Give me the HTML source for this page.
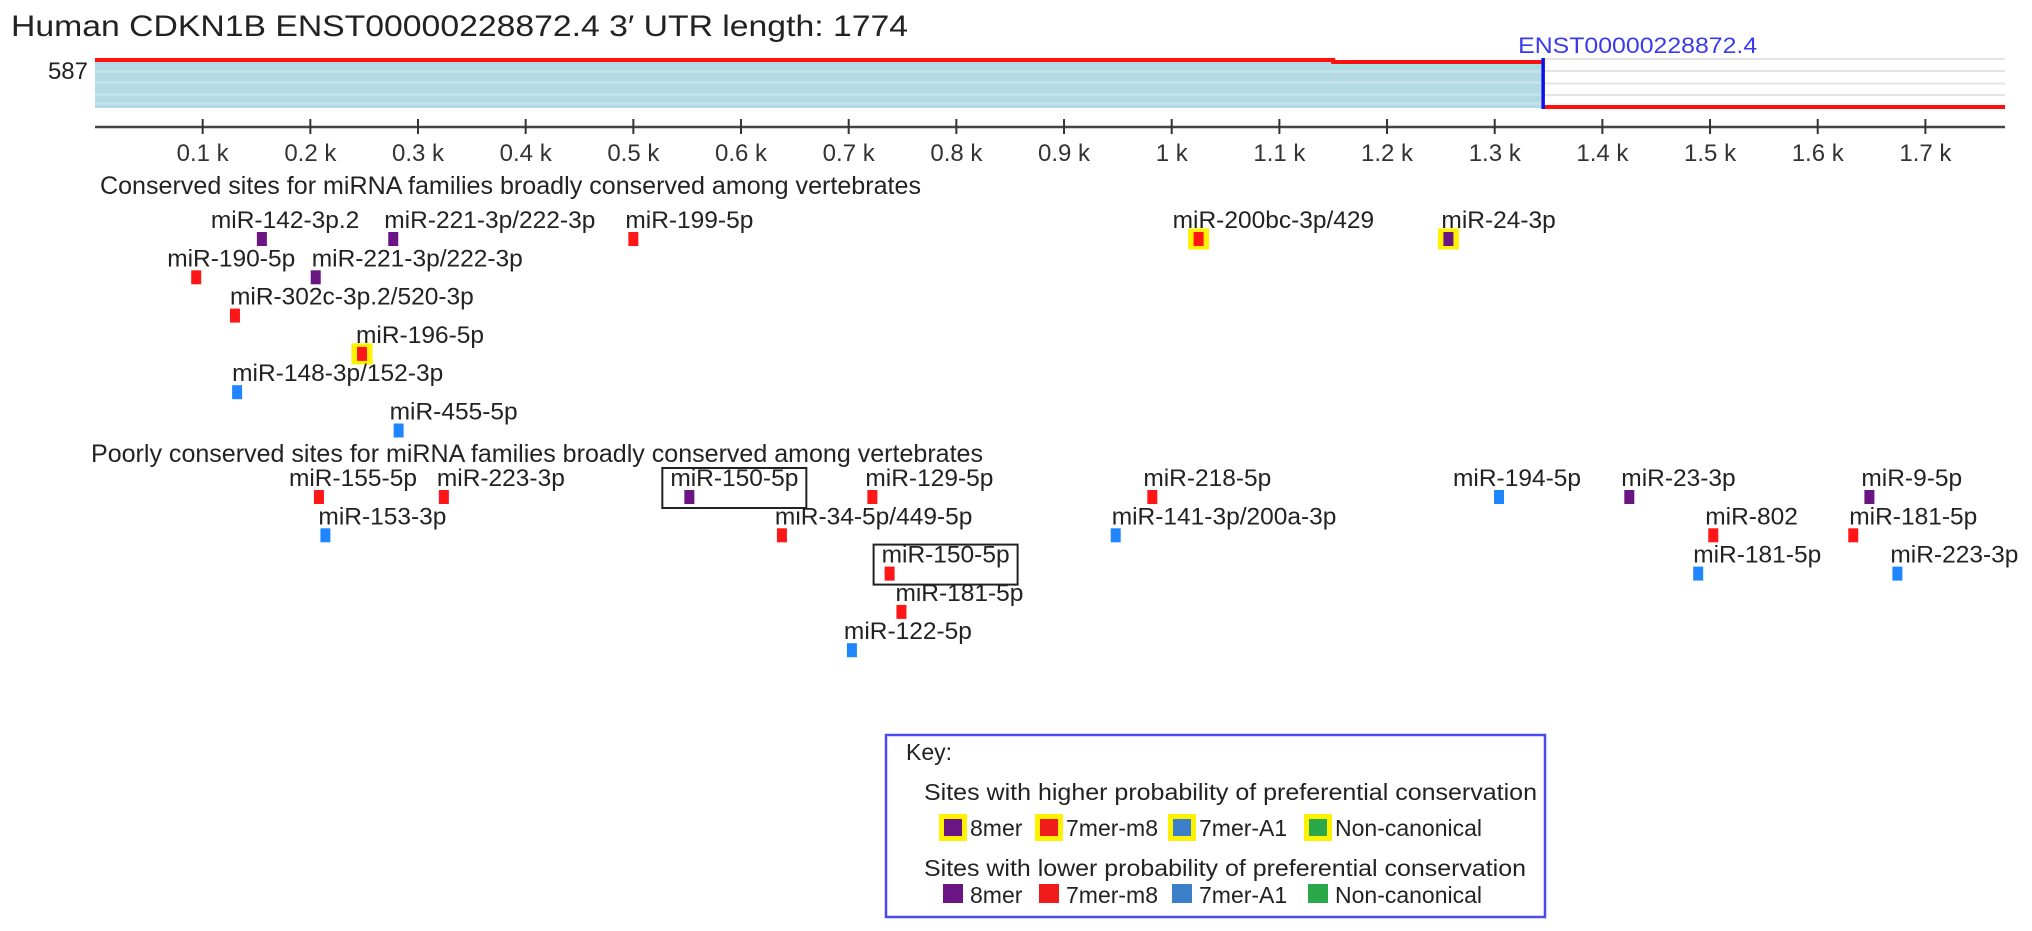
<!DOCTYPE html>
<html><head><meta charset="utf-8">
<style>
html,body{margin:0;padding:0;background:#fff;}
svg{display:block;font-family:"Liberation Sans",Arial,sans-serif;}
</style></head>
<body>
<svg id="chart" width="2032" height="931" viewBox="0 0 2032 931" xmlns="http://www.w3.org/2000/svg">
  <rect width="2032" height="931" fill="#fff"/>
  <text x="11" y="36" font-size="30" fill="#222" textLength="897" lengthAdjust="spacingAndGlyphs">Human CDKN1B ENST00000228872.4  3′ UTR length: 1774</text>
  <text x="88" y="79" font-size="24" fill="#222" text-anchor="end">587</text>
  <g id="track"></g>
  <g id="axis"></g>
  <text x="100" y="194" font-size="25" fill="#222" textLength="821" lengthAdjust="spacingAndGlyphs">Conserved sites for miRNA families broadly conserved among vertebrates</text>
  <text x="91" y="462" font-size="25" fill="#222" textLength="892" lengthAdjust="spacingAndGlyphs">Poorly conserved sites for miRNA families broadly conserved among vertebrates</text>
  <g id="sites"></g>
  <g id="legend">
    <rect x="886" y="735" width="659" height="182" fill="#fff" stroke="#4a4aee" stroke-width="2.5"/>
    <text x="906" y="760" font-size="23" fill="#222">Key:</text>
    <text x="924" y="800" font-size="23" fill="#222" textLength="613" lengthAdjust="spacingAndGlyphs">Sites with higher probability of preferential conservation</text>
    <text x="924" y="876" font-size="23" fill="#222" textLength="602" lengthAdjust="spacingAndGlyphs">Sites with lower probability of preferential conservation</text>
  </g>
</svg>
<script>
// ---- data ----
const utrLength = 1774;
const tickValues = [100,200,300,400,500,600,700,800,900,1000,1100,1200,1300,1400,1500,1600,1700];
const tickLabels = ["0.1 k","0.2 k","0.3 k","0.4 k","0.5 k","0.6 k","0.7 k","0.8 k","0.9 k","1 k","1.1 k","1.2 k","1.3 k","1.4 k","1.5 k","1.6 k","1.7 k"];
const alignStep = 1150;
const transcriptEnd = 1345;

const consNames = ["miR-142-3p.2","miR-221-3p/222-3p","miR-199-5p","miR-200bc-3p/429","miR-24-3p","miR-190-5p","miR-221-3p/222-3p","miR-302c-3p.2/520-3p","miR-196-5p","miR-148-3p/152-3p","miR-455-5p"];
const consPos = [155,277,500,1025,1257,94,205,130,248,132,282];
const consType = ["8mer","8mer","7mer-m8","7mer-m8","8mer","7mer-m8","8mer","7mer-m8","7mer-m8","7mer-A1","7mer-A1"];
const consHigh = [0,0,0,1,1,0,0,0,1,0,0];
const consRow = [0,0,0,0,0,1,1,2,3,4,5];
const consNudge = [-51,-9,-8,-26,-7,-29,-4,-5,-6,-5,-9];

const poorNames = ["miR-155-5p","miR-223-3p","miR-150-5p","miR-129-5p","miR-218-5p","miR-194-5p","miR-23-3p","miR-9-5p","miR-153-3p","miR-34-5p/449-5p","miR-141-3p/200a-3p","miR-802","miR-181-5p","miR-150-5p","miR-181-5p","miR-223-3p","miR-181-5p","miR-122-5p"];
const poorPos = [208,324,552,722,982,1304,1425,1648,214,638,948,1503,1633,738,1489,1674,749,703];
const poorType = ["7mer-m8","7mer-m8","8mer","7mer-m8","7mer-m8","7mer-A1","8mer","8mer","7mer-A1","7mer-m8","7mer-A1","7mer-m8","7mer-m8","7mer-m8","7mer-A1","7mer-A1","7mer-m8","7mer-A1"];
const poorRow = [0,0,0,0,0,0,0,0,1,1,1,1,1,2,2,2,3,4];
const poorBoxed = [0,0,1,0,0,0,0,0,0,0,0,0,0,1,0,0,0,0];
const poorNudge = [-30,-7,-19,-7,-9,-46,-8,-8,-7,-7,-4,-8,-4,-8,-5,-7,-6,-8];

const legendTypes = ["8mer","7mer-m8","7mer-A1","Non-canonical"];

// ---- scales ----
const NS = "http://www.w3.org/2000/svg";
const X0 = 95, PX = 1.0767;
function xs(nt){ return X0 + nt*PX; }
const consRowY = r => 239 + r*38.3;
const poorRowY = r => 497 + r*38.3;
const markerColor = {"8mer":"#6b1483","7mer-m8":"#ff1717","7mer-A1":"#1f86ff","Non-canonical":"#2aa84a"};
const legendColor = {"8mer":"#6b1483","7mer-m8":"#f01c1c","7mer-A1":"#3a7fc8","Non-canonical":"#2ba84a"};
function mk(tag, attrs, parent){
  const e = document.createElementNS(NS, tag);
  for (const k in attrs) e.setAttribute(k, attrs[k]);
  parent.appendChild(e); return e;
}

// ---- track ----
const track = document.getElementById('track');
const xEnd = xs(utrLength), xT = xs(transcriptEnd), xStep = xs(alignStep);
let e;
e = mk('rect',{x:X0,y:62,width:xT-X0,height:46,fill:'#b2d9e4'},track);


[70,81,93,102].forEach(function(y){
  e = mk('rect',{x:X0,y:y,width:xT-X0,height:3,fill:'#c4e2ea'},track);
  
  
});
e = mk('rect',{x:xStep,y:63,width:xT-xStep,height:5,fill:'#a6e0e2'},track);


[59,71,83.5,95].forEach(function(y){
  e = mk('line',{x1:xT,x2:xEnd,y1:y,y2:y,stroke:'#e4e4e4','stroke-width':2},track);
  
  
});
e = mk('polyline',{points:`${X0},60 ${xStep},60 ${xStep},62 ${xT},62`,fill:'none',stroke:'#ff1010','stroke-width':4},track);


e = mk('line',{x1:xT,x2:xEnd,y1:107,y2:107,stroke:'#ff1010','stroke-width':4},track);


e = mk('line',{x1:xT,x2:xT,y1:58,y2:109,stroke:'#1010ee','stroke-width':3.5},track);


e = mk('text',{x:xT-25,y:53,'font-size':22,fill:'#3a3aee',textLength:239,lengthAdjust:'spacingAndGlyphs'},track);
e.textContent = 'ENST00000228872.4';



// ---- axis ----
const axis = document.getElementById('axis');
e = mk('line',{x1:X0,x2:xEnd,y1:127,y2:127,stroke:'#444','stroke-width':2.5},axis);


tickValues.forEach(function(v,i){
  const x = xs(v);
  let t = mk('line',{x1:x,x2:x,y1:119,y2:134,stroke:'#333','stroke-width':2},axis);
  
  
  let l = mk('text',{x:x,y:161,'font-size':24,fill:'#333','text-anchor':'middle'},axis);
  l.textContent = tickLabels[i];
  
  
});

// ---- sites ----
const sites = document.getElementById('sites');
function drawSite(name,pos,type,high,cy,nudge,boxed){
  const cx = xs(pos);
  const g = mk('g',{},sites);
  
  
  if (high){
    let h = mk('rect',{x:cx-10.5,y:cy-10.5,width:21,height:21,fill:'#fff200'},g);
    
    
  }
  let m = mk('rect',{x:cx-5,y:cy-7,width:10,height:14,fill:markerColor[type]},g);
  
  
  const lx = cx + nudge;
  let t = mk('text',{x:lx,y:cy-11,'font-size':24.5,fill:'#222'},g);
  t.textContent = name;
  
  
  if (boxed){
    let b = mk('rect',{x:lx-8,y:cy-29,width:144,height:40,fill:'none',stroke:'#222','stroke-width':2},g);
    
    
  }
}
consNames.forEach(function(n,i){ drawSite(n,consPos[i],consType[i],consHigh[i],consRowY(consRow[i]),consNudge[i],0); });
poorNames.forEach(function(n,i){ drawSite(n,poorPos[i],poorType[i],0,poorRowY(poorRow[i]),poorNudge[i],poorBoxed[i]); });

// ---- legend ----
const legend = document.getElementById('legend');
const legX = [953,1049,1182,1318];
legendTypes.forEach(function(tp,i){
  const x = legX[i];
  let y = mk('rect',{x:x-14,y:814,width:28,height:27,fill:'#fff200'},legend);
  
  
  let s = mk('rect',{x:x-9,y:819,width:18,height:17,fill:legendColor[tp]},legend);
  
  
  let t = mk('text',{x:x+17,y:836,'font-size':23,fill:'#222'},legend);
  t.textContent = tp;
  
  
  let s2 = mk('rect',{x:x-10,y:884,width:20,height:19,fill:legendColor[tp]},legend);
  
  
  let t2 = mk('text',{x:x+17,y:903,'font-size':23,fill:'#222'},legend);
  t2.textContent = tp;
  
  
});
</script>
</body></html>
